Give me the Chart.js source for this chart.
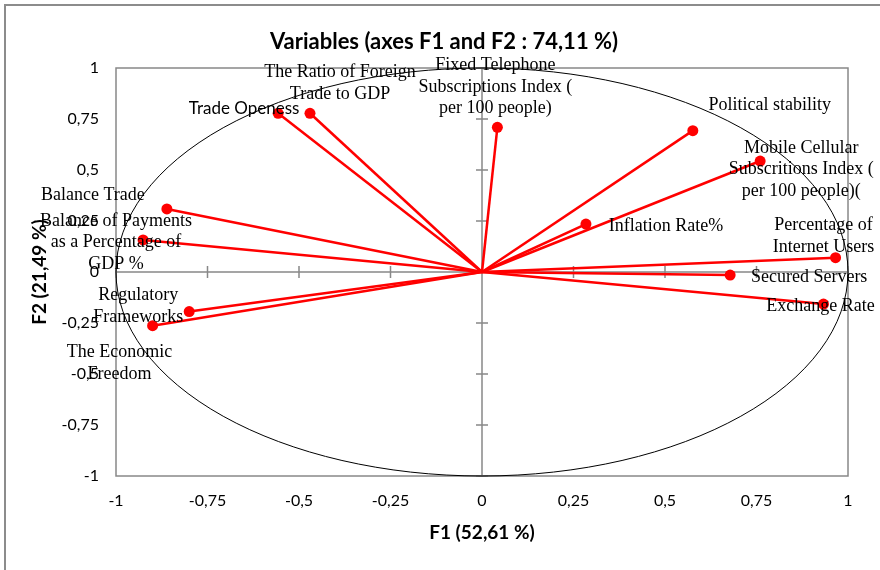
<!DOCTYPE html>
<html>
<head>
<meta charset="utf-8">
<script src="https://cdn.jsdelivr.net/npm/chart.js@4.4.1/dist/chart.umd.min.js"></script>
<style>
    html, body { margin: 0; padding: 0; background: #fff; overflow: hidden; }
    #frame { position: absolute; left: 4px; top: 4px; width: 900px; height: 600px; border: 2px solid #8c8c8c; }
    #wrap { position: absolute; left: 0; top: 0; width: 880px; height: 570px; }
</style>
</head>
<body>
<div id="frame"></div>
<div id="wrap"><canvas id="chart" width="880" height="570"></canvas></div>
<script>
// Variables plotted on the correlation circle (F1, F2)
const variables = [
    'Trade Openess',
    'The Ratio of Foreign Trade to GDP',
    'Fixed Telephone Subscriptions Index ( per 100 people)',
    'Political stability',
    'Mobile Cellular Subscritions Index ( per 100 people)(',
    'Inflation Rate%',
    'Percentage of Internet Users',
    'Secured Servers',
    'Exchange Rate',
    'Balance Trade',
    'Balance of Payments as a Percentage of GDP %',
    'Regulatory Frameworks',
    'The Economic Freedom'
];
const f1 = [-0.557, -0.470, 0.042, 0.576, 0.760, 0.284, 0.966, 0.678, 0.933, -0.861, -0.926, -0.800, -0.900];
const f2 = [0.778, 0.778, 0.709, 0.693, 0.544, 0.235, 0.070, -0.015, -0.157, 0.309, 0.157, -0.194, -0.263];
const tickValues = [-1, -0.75, -0.5, -0.25, 0, 0.25, 0.5, 0.75, 1];
const chartTitle = 'Variables (axes F1 and F2 : 74,11 %)';

// how the label text is broken into lines
const labelLines = [
    ['Trade Openess'],
    ['The Ratio of Foreign', 'Trade to GDP'],
    ['Fixed Telephone', 'Subscriptions Index (', 'per 100 people)'],
    ['Political stability'],
    ['Mobile Cellular', 'Subscritions Index (', 'per 100 people)('],
    ['Inflation Rate%'],
    ['Percentage of', 'Internet Users'],
    ['Secured Servers'],
    ['Exchange Rate'],
    ['Balance Trade'],
    ['Balance of Payments', 'as a Percentage of', 'GDP %'],
    ['Regulatory', 'Frameworks'],
    ['The Economic', 'Freedom']
];

// label placement relative to the point, in pixels
const labelPlacement = [
    { dx: -34, dy: -5, sans: true },
    { dx: 30, dy: -41 },
    { dx: -2, dy: -62 },
    { dx: 77, dy: -25 },
    { dx: 41, dy: -13 },
    { dx: 80, dy: 2 },
    { dx: -12, dy: -32 },
    { dx: 79, dy: 2 },
    { dx: -3, dy: 2 },
    { dx: -74, dy: -14 },
    { dx: -27, dy: -19 },
    { dx: -51, dy: -16 },
    { dx: -33, dy: 27 }
];

const AXIS_GREY = '#888888';
const RED = '#ff0000';
const SANS = "Lato, 'Liberation Sans', sans-serif";
const fmt = v => String(v).replace('.', ',');

const decorPlugin = {
    id: 'pcaDecor',
    beforeDatasetsDraw(chart) {
        const { ctx, chartArea } = chart;
        const xs = chart.scales.x, ys = chart.scales.y;
        const cx = xs.getPixelForValue(0), cy = ys.getPixelForValue(0);

        ctx.save();
        // plot frame
        ctx.strokeStyle = AXIS_GREY;
        ctx.lineWidth = 1.5;
        ctx.strokeRect(chartArea.left, chartArea.top, chartArea.width, chartArea.height);

        // axes through the origin with tick marks
        ctx.beginPath();
        ctx.moveTo(chartArea.left, cy); ctx.lineTo(chartArea.right, cy);
        ctx.moveTo(cx, chartArea.top); ctx.lineTo(cx, chartArea.bottom);
        tickValues.forEach(v => {
            const px = xs.getPixelForValue(v);
            const py = ys.getPixelForValue(v);
            ctx.moveTo(px, cy - 6); ctx.lineTo(px, cy + 6);
            ctx.moveTo(cx - 6, py); ctx.lineTo(cx + 6, py);
        });
        ctx.stroke();

        // correlation circle
        const rx = xs.getPixelForValue(1) - cx;
        const ry = cy - ys.getPixelForValue(1);
        ctx.beginPath();
        ctx.ellipse(cx, cy, rx, ry, 0, 0, Math.PI * 2);
        ctx.strokeStyle = '#000';
        ctx.lineWidth = 1;
        ctx.stroke();
        ctx.restore();
    },
    afterDatasetsDraw(chart) {
        const { ctx } = chart;
        const xs = chart.scales.x, ys = chart.scales.y;
        ctx.save();
        ctx.fillStyle = '#000';
        ctx.textAlign = 'center';
        ctx.textBaseline = 'middle';
        labelLines.forEach((lines, i) => {
            const p = labelPlacement[i];
            const px = xs.getPixelForValue(f1[i]) + p.dx;
            const py = ys.getPixelForValue(f2[i]) + p.dy;
            ctx.font = p.sans ? `17px ${SANS}` : "18px 'Liberation Serif', 'Times New Roman', serif";
            lines.forEach((line, k) => ctx.fillText(line, px, py + k * 21.5));
        });

        // title
        ctx.font = `bold 22px ${SANS}`;
        ctx.fillText(chartTitle, 444, 42);
        ctx.restore();
    }
};

const datasets = variables.map((name, i) => ({
    label: name,
    data: [{ x: 0, y: 0 }, { x: f1[i], y: f2[i] }],
    showLine: true,
    borderColor: RED,
    borderWidth: 2.5,
    pointRadius: [0, 5.5],
    pointBackgroundColor: RED,
    pointBorderWidth: 0
}));

const tickFont = { family: SANS, size: 16 };

new Chart(document.getElementById('chart').getContext('2d'), {
    type: 'scatter',
    data: { datasets },
    plugins: [decorPlugin],
    options: {
        responsive: false,
        animation: false,
        layout: { padding: { left: 20, right: 32, top: 68, bottom: 20 } },
        plugins: {
            legend: { display: false },
            tooltip: { enabled: false },
            title: { display: false }
        },
        scales: {
            x: {
                type: 'linear',
                min: -1,
                max: 1,
                grid: { display: false, drawTicks: false },
                border: { display: false },
                ticks: { stepSize: 0.25, autoSkip: false, padding: 15, color: '#000', font: tickFont, callback: fmt },
                title: {
                    display: true,
                    text: 'F1 (52,61 %)',
                    color: '#000',
                    font: { family: SANS, size: 19, weight: 'bold' },
                    padding: { top: 4, bottom: 6 }
                },
                afterFit(scale) { scale.height = 74; }
            },
            y: {
                type: 'linear',
                min: -1,
                max: 1,
                grid: { display: false, drawTicks: false },
                border: { display: false },
                ticks: { stepSize: 0.25, autoSkip: false, padding: 17, color: '#000', font: tickFont, callback: fmt },
                title: {
                    display: true,
                    text: 'F2 (21,49 %)',
                    color: '#000',
                    font: { family: SANS, size: 19, weight: 'bold' },
                    padding: { top: 8, bottom: 4 }
                },
                afterFit(scale) { scale.width = 96; }
            }
        }
    }
});
</script>
</body>
</html>
